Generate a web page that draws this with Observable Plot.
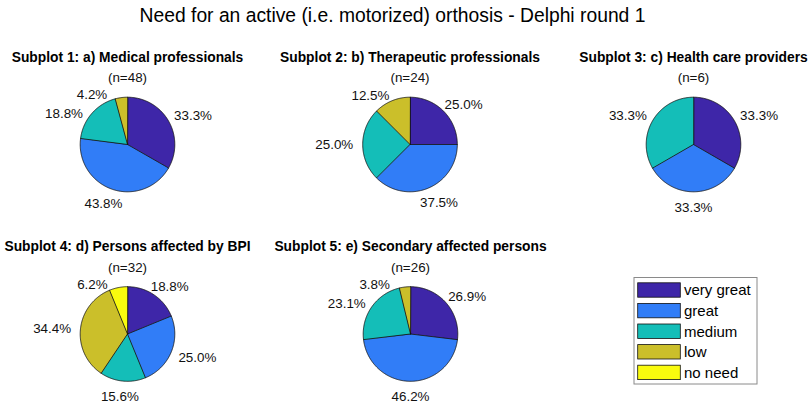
<!DOCTYPE html>
<html><head><meta charset="utf-8">
<script src="https://cdn.jsdelivr.net/npm/d3@7"></script>
<script src="https://cdn.jsdelivr.net/npm/@observablehq/plot@0.6"></script>
<style>body{margin:0;background:#fff} #chart svg{display:block}</style>
</head><body><div id="chart"></div>
<script>
// ---- data ----
const mainTitle = "Need for an active (i.e. motorized) orthosis - Delphi round 1";
const categories = ["very great", "great", "medium", "low", "no need"];
const colors = ["#3E26A8", "#317DF7", "#14BEB8", "#CBBF2A", "#F9FB0E"];
const groupTitles = [
  "Subplot 1: a) Medical professionals",
  "Subplot 2: b) Therapeutic professionals",
  "Subplot 3: c) Health care providers",
  "Subplot 4: d) Persons affected by BPI",
  "Subplot 5: e) Secondary affected persons"
];
const sampleSizes = [48, 24, 6, 32, 26];
const medical = [33.3, 43.8, 18.8, 4.2, 0];
const therapeutic = [25.0, 37.5, 25.0, 12.5, 0];
const careProviders = [33.3, 33.3, 33.3, 0, 0];
const affected = [18.8, 25.0, 15.6, 34.4, 6.2];
const secondary = [26.9, 46.2, 23.1, 3.8, 0];

// ---- layout ----
const W = 808, H = 403, R = 47.3;
const centers = [[127, 144], [409.5, 144], [693, 144], [127, 333.5], [410, 333.5]];
const FONT = "'Liberation Sans', Arial, Helvetica, sans-serif";
const LABEL_SIZE = 13.4;

const ctx = document.createElement("canvas").getContext("2d");
function textWidth(s, size, weight = "normal") {
  ctx.font = `${weight} ${size}px ${FONT}`;
  return ctx.measureText(s).width;
}
function overlap(a, b) {
  return Math.abs(a.x - b.x) < (a.w + b.w) / 2 && Math.abs(a.y - b.y) < (a.h + b.h) / 2;
}

const series = [medical, therapeutic, careProviders, affected, secondary];
const pie = d3.pie().sort(null).value(d => d.value).startAngle(0).endAngle(2 * Math.PI);

const slicePts = [], labels = [], heads = [], subs = [];
series.forEach((vals, g) => {
  const [cx, cy] = centers[g];
  const rows = categories.map((c, i) => ({category: c, value: vals[i]})).filter(d => d.value > 0);
  const arcs = pie(rows);
  arcs.forEach((a, j) => {
    const key = g + "-" + j;
    slicePts.push({key, category: a.data.category, x: cx, y: cy});
    const n = Math.max(2, Math.ceil((a.endAngle - a.startAngle) / (Math.PI / 180)));
    for (let k = 0; k <= n; k++) {
      const t = a.startAngle + (a.endAngle - a.startAngle) * k / n;
      slicePts.push({key, category: a.data.category, x: cx + R * Math.sin(t), y: cy - R * Math.cos(t)});
    }
  });
  const subText = `(n=${sampleSizes[g]})`;
  const subY = cy - 66.5;
  subs.push({x: cx, y: subY, text: subText});
  heads.push({x: cx, y: cy - 87, text: groupTitles[g]});
  const placed = [{x: cx, y: subY, w: textWidth(subText, LABEL_SIZE), h: 18}];
  const pos = (phi, w) => ({
    x: cx + (1.2 * R + w / 2) * Math.sin(phi),
    y: cy - 1.2 * R * Math.cos(phi) + Math.max(0, -Math.cos(phi)) * 6
  });
  for (let j = arcs.length - 1; j >= 0; j--) {
    const a = arcs[j];
    const text = a.data.value.toFixed(1) + "%";
    const w = textWidth(text, LABEL_SIZE);
    let phi = (a.startAngle + a.endAngle) / 2;
    const step = (Math.sin(phi) < 0 ? -1 : 1) * Math.PI / 180;
    let p = pos(phi, w);
    for (let k = 0; k < 60 && placed.some(b => overlap(b, {...p, w, h: 18})); k++) {
      phi += step; p = pos(phi, w);
    }
    placed.push({...p, w, h: 18});
    labels.push({...p, text});
  }
});

const legendRows = categories.map((c, i) => ({category: c, yc: 290 + i * 20.6}));
const legendFrame = [{x1: 634, x2: 757, y1: 277.5, y2: 384}];
const titleRow = [{x: 392, y: 15.5, text: mainTitle}];

const chart = Plot.plot({
  width: W, height: H,
  marginTop: 0, marginRight: 0, marginBottom: 0, marginLeft: 0,
  x: {domain: [0, W], range: [0, W], axis: null},
  y: {domain: [0, H], range: [0, H], axis: null},
  color: {type: "ordinal", domain: categories, range: colors, legend: false},
  style: {fontFamily: FONT, background: "white", color: "black", overflow: "visible"},
  marks: [
    Plot.line(slicePts, {x: "x", y: "y", z: "key", fill: "category", stroke: "#111", strokeWidth: 0.8, curve: "linear-closed"}),
    Plot.text(labels, {x: "x", y: "y", text: "text", fontSize: LABEL_SIZE, fill: "#111", textAnchor: "middle"}),
    Plot.text(subs, {x: "x", y: "y", text: "text", fontSize: LABEL_SIZE, fill: "#111", textAnchor: "middle"}),
    Plot.text(heads, {x: "x", y: "y", text: "text", fontSize: 13.8, fontWeight: "bold", fill: "#000", textAnchor: "middle"}),
    Plot.text(titleRow, {x: "x", y: "y", text: "text", fontSize: 19.3, fill: "#000", textAnchor: "middle"}),
    Plot.rect(legendFrame, {x1: "x1", x2: "x2", y1: "y1", y2: "y2", fill: "white", stroke: "#8a8a8a", strokeWidth: 1}),
    Plot.rect(legendRows, {x1: () => 637.7, x2: () => 680.3, y1: d => d.yc - 7.2, y2: d => d.yc + 7.2, fill: "category", stroke: "#111", strokeWidth: 0.8}),
    Plot.text(legendRows, {x: () => 683.5, y: "yc", text: "category", fontSize: 15, fill: "#000", textAnchor: "start"})
  ]
});
document.getElementById("chart").append(chart);
</script>
</body></html>
